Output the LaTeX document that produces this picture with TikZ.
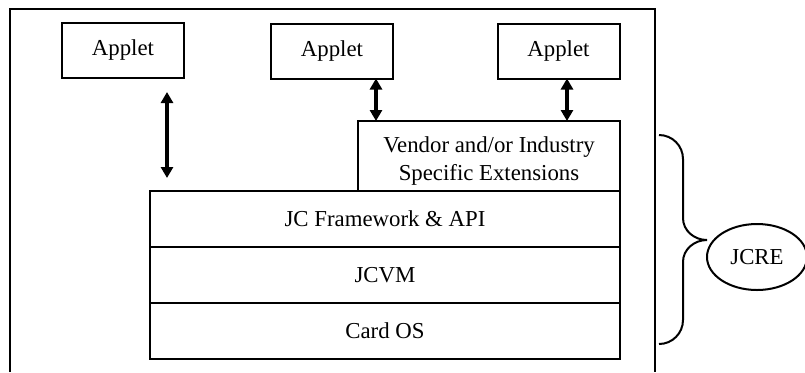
\documentclass[tikz,border=0pt]{standalone}
\usepackage{fontspec}
\setmainfont{Liberation Serif}
\usetikzlibrary{arrows.meta,positioning,shapes.geometric}

\begin{document}
\begin{tikzpicture}[
    x=0.5pt, y=-0.5pt,
    node distance=0pt,
    every node/.style={draw, line width=1pt, outer sep=0pt, align=center,
      font=\fontsize{11.4}{14}\selectfont},
    applet/.style={minimum width=61pt, minimum height=27.5pt},
    layer/.style={minimum width=235pt, minimum height=28pt},
    dblarrow/.style={{Triangle[length=5.5pt,width=6pt]}-{Triangle[length=5.5pt,width=6pt]}, line width=1.6pt},
    >={Stealth[length=3mm]}
  ]
    \useasboundingbox (0,0) rectangle (805,372);

    % outer card frame, open at the bottom
    \draw[line width=1pt] (10,372) -- (10,9) -- (655,9) -- (655,372);

    \node[applet] (applet1) at (123,50.5) {Applet};
    \node[applet] (applet2) at (332,51) {Applet};
    \node[applet] (applet3) at (558.5,51) {Applet};

    \node[layer] (framework) at (385,219) {JC Framework \& API};
    \node[layer, below=of framework] (jcvm) {JCVM};
    \node[layer, below=of jcvm] (cardos) {Card OS};
    \node[minimum width=131pt, minimum height=35pt, text height=27pt, inner ysep=1pt,
      above left=0pt and 0pt of framework.north east] (vendor)
      {Vendor and/or Industry\\Specific Extensions};

    \node[ellipse, minimum width=50pt, minimum height=33pt] (jcre) at (757,257) {JCRE};

    \coordinate (arr1top) at (167,92);
    \coordinate (arr1bot) at (167,178);
    \coordinate (arr2) at (376,0);
    \coordinate (arr3) at (567,0);

    \draw[dblarrow] (arr1top) -- (arr1bot);
    \draw[dblarrow] (applet2.south -| arr2) -- (vendor.north -| arr2);
    \draw[dblarrow] (applet3.south -| arr3) -- (vendor.north -| arr3);

    % brace round the runtime layers
    \draw[line width=1pt] (659,135) to[out=0,in=90] (683,159) -- (683,218)
      to[out=-90,in=180] (707,240) to[out=180,in=90] (683,262) -- (683,320)
      to[out=-90,in=0] (659,344);
  \end{tikzpicture}
\end{document}
